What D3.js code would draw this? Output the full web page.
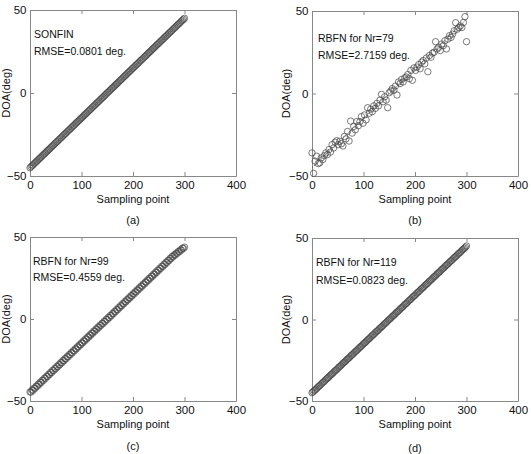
<!DOCTYPE html>
<html><head><meta charset="utf-8">
<script src="https://cdn.jsdelivr.net/npm/d3@7"></script>
<style>body{margin:0;background:#fff}svg{display:block}</style>
</head><body><svg id="c" width="531" height="454"></svg>
<script>
// sampling points used for panels (a), (c), (d)
const samplingPointsDense = [0,2,4,6,8,10,12,14,16,18,20,22,24,26,28,30,32,34,36,38,40,42,44,46,48,50,52,54,56,58,60,62,64,66,68,70,72,74,76,78,80,82,84,86,88,90,92,94,96,98,100,102,104,106,108,110,112,114,116,118,120,122,124,126,128,130,132,134,136,138,140,142,144,146,148,150,152,154,156,158,160,162,164,166,168,170,172,174,176,178,180,182,184,186,188,190,192,194,196,198,200,202,204,206,208,210,212,214,216,218,220,222,224,226,228,230,232,234,236,238,240,242,244,246,248,250,252,254,256,258,260,262,264,266,268,270,272,274,276,278,280,282,284,286,288,290,292,294,296,298,300];
// sampling points used for panel (b)
const samplingPoints = [0,3,6,9,12,15,18,21,24,27,30,33,36,39,42,45,48,51,54,57,60,63,66,69,72,75,78,81,84,87,90,93,96,99,102,105,108,111,114,117,120,123,126,129,132,135,138,141,144,147,150,153,156,159,162,165,168,171,174,177,180,183,186,189,192,195,198,201,204,207,210,213,216,219,222,225,228,231,234,237,240,243,246,249,252,255,258,261,264,267,270,273,276,279,282,285,288,291,294,297,300];
const trueDOA = [-45,-44.1,-43.2,-42.3,-41.4,-40.5,-39.6,-38.7,-37.8,-36.9,-36,-35.1,-34.2,-33.3,-32.4,-31.5,-30.6,-29.7,-28.8,-27.9,-27,-26.1,-25.2,-24.3,-23.4,-22.5,-21.6,-20.7,-19.8,-18.9,-18,-17.1,-16.2,-15.3,-14.4,-13.5,-12.6,-11.7,-10.8,-9.9,-9,-8.1,-7.2,-6.3,-5.4,-4.5,-3.6,-2.7,-1.8,-0.9,0,0.9,1.8,2.7,3.6,4.5,5.4,6.3,7.2,8.1,9,9.9,10.8,11.7,12.6,13.5,14.4,15.3,16.2,17.1,18,18.9,19.8,20.7,21.6,22.5,23.4,24.3,25.2,26.1,27,27.9,28.8,29.7,30.6,31.5,32.4,33.3,34.2,35.1,36,36.9,37.8,38.7,39.6,40.5,41.4,42.3,43.2,44.1,45];
const sonfinDOA = [-45.1,-44.4,-43.8,-43.3,-42.6,-42.0,-41.4,-40.9,-40.2,-39.6,
 -39.0,-38.5,-37.8,-37.2,-36.6,-36.1,-35.4,-34.8,-34.2,-33.7,
 -33.0,-32.4,-31.8,-31.3,-30.6,-30.0,-29.4,-28.9,-28.2,-27.6,
 -27.0,-26.5,-25.8,-25.2,-24.6,-24.1,-23.4,-22.8,-22.2,-21.7,
 -21.0,-20.4,-19.8,-19.3,-18.6,-18.0,-17.4,-16.9,-16.2,-15.6,
 -15.0,-14.5,-13.8,-13.2,-12.6,-12.1,-11.4,-10.8,-10.2,-9.7,
 -9.0,-8.4,-7.8,-7.3,-6.6,-6.0,-5.4,-4.9,-4.2,-3.6,
 -3.0,-2.5,-1.8,-1.2,-0.6,0.1,0.6,1.2,1.8,2.5,
 3.0,3.6,4.2,4.9,5.4,6.0,6.6,7.3,7.8,8.4,
 9.0,9.7,10.2,10.8,11.4,12.1,12.6,13.2,13.8,14.5,
 15.0,15.6,16.2,16.9,17.4,18.0,18.6,19.3,19.8,20.4,
 21.0,21.7,22.2,22.8,23.4,24.1,24.6,25.2,25.8,26.5,
 27.0,27.6,28.2,28.9,29.4,30.0,30.6,31.3,31.8,32.4,
 33.0,33.7,34.2,34.8,35.4,36.1,36.6,37.2,37.8,38.5,
 39.0,39.6,40.2,40.9,41.4,42.0,42.6,43.3,43.8,44.4,45.0];
const rbfn79DOA = [-36,-48.4,-41,-38,-42.5,-42,-39,-40,-37.7,-36,
 -37,-34,-35.5,-31,-33,-29.5,-28.6,-31,-29,-30.5,
 -31.8,-26,-27.5,-23,-28.8,-16.7,-24,-20,-22,-17,
 -19.5,-17,-14,-18,-13,-16,-8.6,-12,-9.5,-11,
 -7.5,-9,-6,-7.5,-4,-0.5,-5,-2,-4,-8.6,
 0.5,1.5,3,2,4.5,-0.9,7,6,8.5,7,
 9.5,10,11.5,9,14,8,15.5,14,16,17.5,
 15,19,20,18,21.5,13.2,23,22,24.5,25,
 31.4,27,28,26,30,29,32,27,33,35,
 34,36,38,42.9,39,40,41,40,43,46.6,31.4];
const rbfn99DOA = [-44.5,-44.6,-43.3,-43.5,-42.1,-42.3,-40.9,-41.1,-39.7,-39.9,
 -38.5,-38.7,-37.3,-37.5,-36.1,-36.3,-34.9,-35.1,-33.7,-33.9,
 -32.5,-32.7,-31.3,-31.5,-30.1,-30.3,-28.9,-29.1,-27.7,-27.9,
 -26.5,-26.7,-25.3,-25.5,-24.1,-24.3,-22.9,-23.1,-21.7,-21.9,
 -20.5,-20.7,-19.3,-19.5,-18.1,-18.3,-16.9,-17.1,-15.7,-15.9,
 -14.5,-14.7,-13.3,-13.5,-12.1,-12.3,-10.9,-11.1,-9.7,-9.9,
 -8.5,-8.7,-7.3,-7.5,-6.1,-6.3,-4.9,-5.1,-3.7,-3.9,
 -2.6,-2.8,-1.4,-1.6,-0.2,-0.4,1.0,0.8,2.2,2.0,
 3.4,3.2,4.6,4.4,5.8,5.6,7.0,6.8,8.2,8.0,
 9.4,9.2,10.6,10.4,11.8,11.6,13.0,12.8,14.2,14.0,
 15.4,15.2,16.6,16.4,17.8,17.6,19.0,18.8,20.2,20.0,
 21.4,21.2,22.6,22.4,23.8,23.6,25.0,24.8,26.2,26.0,
 27.4,27.2,28.6,28.4,29.8,29.6,31.0,30.8,32.2,32.0,
 33.4,33.2,34.6,34.4,35.8,35.6,37.0,36.8,38.2,38.0,
 39.2,39.0,40.2,40.0,41.2,41.0,42.2,42.0,43.2,43.0,43.8];
const rbfn119DOA = [-44.9,-44.4,-43.7,-43.2,-42.7,-42.0,-41.3,-40.8,-40.3,-39.6,
 -38.9,-38.4,-37.9,-37.2,-36.5,-36.0,-35.5,-34.8,-34.1,-33.6,
 -33.1,-32.4,-31.7,-31.2,-30.7,-30.0,-29.3,-28.8,-28.3,-27.6,
 -26.9,-26.4,-25.9,-25.2,-24.5,-24.0,-23.5,-22.8,-22.1,-21.6,
 -21.1,-20.4,-19.7,-19.2,-18.7,-18.0,-17.3,-16.8,-16.3,-15.6,
 -14.9,-14.4,-13.9,-13.2,-12.5,-12.0,-11.5,-10.8,-10.1,-9.6,
 -9.1,-8.4,-7.7,-7.2,-6.7,-6.0,-5.3,-4.8,-4.3,-3.6,
 -2.9,-2.4,-1.9,-1.2,-0.5,0.0,0.5,1.2,1.9,2.4,
 2.9,3.6,4.3,4.8,5.3,6.0,6.7,7.2,7.7,8.4,
 9.1,9.6,10.1,10.8,11.5,12.0,12.5,13.2,13.9,14.4,
 14.9,15.6,16.3,16.8,17.3,18.0,18.7,19.2,19.7,20.4,
 21.1,21.6,22.1,22.8,23.5,24.0,24.5,25.2,25.9,26.4,
 26.9,27.6,28.3,28.8,29.3,30.0,30.7,31.2,31.7,32.4,
 33.1,33.6,34.1,34.8,35.5,36.0,36.5,37.2,37.9,38.4,
 38.9,39.6,40.3,40.8,41.3,42.0,42.7,43.2,43.7,44.4,45.1];
const xTicks = [0,100,200,300,400];
const yTicks = [-50,0,50];
const panelLabels = ["(a)","(b)","(c)","(d)"];
const annotLine1 = ["SONFIN","RBFN for Nr=79","RBFN for Nr=99","RBFN for Nr=119"];
const annotLine2 = ["RMSE=0.0801 deg.","RMSE=2.7159 deg.","RMSE=0.4559 deg.","RMSE=0.0823 deg."];
const xLabel = "Sampling point";
const yLabel = "DOA(deg)";
const seriesList = [sonfinDOA, rbfn79DOA, rbfn99DOA, rbfn119DOA];
const xList = [samplingPointsDense, samplingPoints, samplingPointsDense, samplingPointsDense];

const layout = [
  {left:30,  top:10,  w:206, h:166, tx:34,  ty:[38,55],    sub:224, yl:10},
  {left:312, top:11,  w:206, h:165, tx:318, ty:[42,58.5],  sub:224, yl:290},
  {left:30,  top:237, w:206, h:164, tx:33,  ty:[264.5,281],sub:450, yl:10},
  {left:312, top:238, w:206, h:163, tx:316, ty:[266,283.5],sub:452, yl:290}
];

const svg = d3.select("#c");
const FONT = "'Liberation Sans', Arial, Helvetica, sans-serif";
const axisColor = "#888";

layout.forEach((L, i) => {
  const g = svg.append("g").attr("transform", `translate(${L.left},${L.top})`);
  const x = d3.scaleLinear().domain([0,400]).range([0, L.w]);
  const y = d3.scaleLinear().domain([-50,50]).range([L.h, 0]);

  const styleAxis = sel => {
    sel.select(".domain").attr("stroke", axisColor).attr("stroke-width", 1);
    sel.selectAll(".tick line").attr("stroke", axisColor);
    sel.selectAll(".tick text").attr("fill", "#111").style("font-family", FONT).style("font-size", "11.5px");
  };

  g.append("g").attr("transform", `translate(0,${L.h})`)
    .call(d3.axisBottom(x).tickValues(xTicks).tickSizeInner(-4).tickSizeOuter(0).tickPadding(5))
    .call(styleAxis);
  g.append("g")
    .call(d3.axisTop(x).tickValues(xTicks).tickSizeInner(-4).tickSizeOuter(0).tickFormat(""))
    .call(styleAxis);
  g.append("g")
    .call(d3.axisLeft(y).tickValues(yTicks).tickSizeInner(-4).tickSizeOuter(0).tickPadding(3.5))
    .call(styleAxis);
  g.append("g").attr("transform", `translate(${L.w},0)`)
    .call(d3.axisRight(y).tickValues(yTicks).tickSizeInner(-4).tickSizeOuter(0).tickFormat(""))
    .call(styleAxis);

  // true DOA reference (dashed)
  const line = d3.line().x((d, k) => x(samplingPoints[k])).y(d => y(d));
  g.append("path").datum(trueDOA).attr("d", line)
    .attr("fill", "none").attr("stroke", "#444").attr("stroke-width", 0.8)
    .attr("stroke-dasharray", "1.5,1.5");

  // estimated DOA circles
  const xs = xList[i];
  g.append("g").selectAll("circle").data(seriesList[i]).join("circle")
    .attr("cx", (d, k) => x(xs[k]))
    .attr("cy", d => y(d))
    .attr("r", 3.2)
    .attr("fill", "none").attr("stroke", "#444").attr("stroke-width", 0.7);

  // annotations
  [annotLine1[i], annotLine2[i]].forEach((t, j) => {
    svg.append("text").attr("x", L.tx).attr("y", L.ty[j]).text(t)
      .style("font-family", FONT).style("font-size", "10.5px").attr("fill", "#111");
  });

  // x label
  svg.append("text").attr("x", L.left + L.w / 2).attr("y", L.top + L.h + 27)
    .attr("text-anchor", "middle").text(xLabel)
    .style("font-family", FONT).style("font-size", "11px").attr("fill", "#111");
  // y label
  svg.append("text")
    .attr("transform", `translate(${L.yl},${L.top + L.h / 2}) rotate(-90)`)
    .attr("text-anchor", "middle").text(yLabel)
    .style("font-family", FONT).style("font-size", "11px").attr("fill", "#111");
  // panel label
  svg.append("text").attr("x", L.left + L.w / 2).attr("y", L.sub)
    .attr("text-anchor", "middle").text(panelLabels[i])
    .style("font-family", FONT).style("font-size", "11px").attr("fill", "#111");
});
</script></body></html>
